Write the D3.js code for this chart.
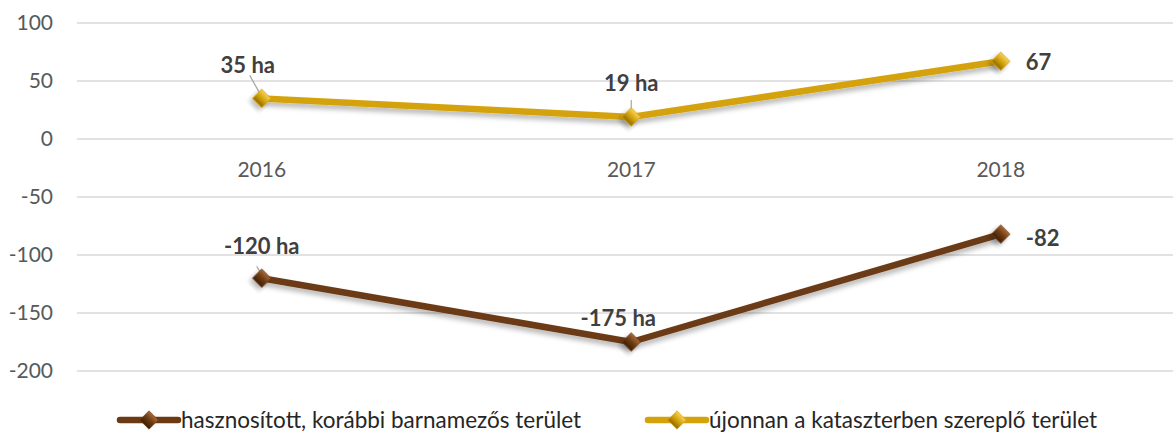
<!DOCTYPE html>
<html><head><meta charset="utf-8">
<script src="https://cdn.jsdelivr.net/npm/d3@7"></script>
<style>body{margin:0;background:#fff}svg{display:block}</style>
</head><body>
<svg id="c" width="1173" height="435"></svg>
<script>
const categories = ["2016", "2017", "2018"];
const seriesNames = ["hasznosított, korábbi barnamezős terület", "újonnan a kataszterben szereplő terület"];
const brownValues = [-120, -175, -82];
const goldValues = [35, 19, 67];
const brownLabels = ["-120 ha", "-175 ha", "-82"];
const goldLabels = ["35 ha", "19 ha", "67"];
const yTicks = [100, 50, 0, -50, -100, -150, -200];

const svg = d3.select("#c");
const font = "Lato, 'Open Sans', sans-serif";
const x = d3.scaleBand().domain(categories).range([77, 1185.5]);
const cx = c => x(c) + x.bandwidth() / 2;
const y = d3.scaleLinear().domain([-200, 100]).range([371, 23]);

const defs = svg.append("defs");
const f = defs.append("filter").attr("id", "sh").attr("x", "-20%").attr("y", "-30%").attr("width", "140%").attr("height", "180%");
f.append("feDropShadow").attr("dx", 0).attr("dy", 4).attr("stdDeviation", 2.5).attr("flood-color", "#000").attr("flood-opacity", 0.28);

function grad(id, light, mid, dark) {
  const g = defs.append("linearGradient").attr("id", id).attr("x1", 0).attr("y1", 0).attr("x2", 0).attr("y2", 1);
  g.append("stop").attr("offset", "0%").attr("stop-color", light);
  g.append("stop").attr("offset", "50%").attr("stop-color", mid);
  g.append("stop").attr("offset", "100%").attr("stop-color", dark);
}
grad("gg", "#f5d25a", "#d4a20a", "#8e6a00");
grad("gb", "#a8683a", "#6b3a12", "#3e1f06");

const diamond = d3.symbol(d3.symbolSquare, 170)();

// gridlines
svg.append("g").selectAll("line").data(yTicks).join("line")
  .attr("x1", 77).attr("x2", 1173)
  .attr("y1", d => y(d)).attr("y2", d => y(d))
  .attr("stroke", "#d9d9d9").attr("stroke-width", 1.3);

// y labels
svg.append("g").selectAll("text").data(yTicks).join("text")
  .attr("x", 53).attr("y", d => y(d)).attr("dy", "0.35em")
  .attr("text-anchor", "end").attr("font-family", font).attr("font-size", 21)
  .attr("fill", "#595959").text(d => d);

// x labels
svg.append("g").selectAll("text").data(categories).join("text")
  .attr("x", d => cx(d)).attr("y", y(0) + 31).attr("dy", "0.35em").attr("text-anchor", "middle")
  .attr("font-family", font).attr("font-size", 21).attr("fill", "#595959").text(d => d);

const line = d3.line().x((d, i) => cx(categories[i])).y(d => y(d));

function series(vals, color, gid) {
  const g = svg.append("g");
  g.append("path").datum(vals).attr("d", line).attr("fill", "none")
    .attr("stroke", color).attr("stroke-width", 6.5).attr("stroke-linejoin", "round")
    .attr("filter", "url(#sh)");
  g.selectAll("path.m").data(vals).join("path").attr("class", "m")
    .attr("transform", (d, i) => `translate(${cx(categories[i])},${y(d)}) rotate(45)`)
    .attr("d", diamond)
    .attr("fill", `url(#${gid})`).attr("stroke", color).attr("stroke-width", 0.6)
    .attr("filter", "url(#sh)");
}

// leader lines
const leaders = [
  [cx("2016") - 12, y(35) - 23, cx("2016") - 2, y(35) - 5],
  [cx("2017"), y(19) - 17, cx("2017"), y(19) - 6],
  [cx("2016") - 5, y(-120) - 12, cx("2016") - 1, y(-120) - 5]
];
svg.append("g").selectAll("line").data(leaders).join("line")
  .attr("x1", d => d[0]).attr("y1", d => d[1]).attr("x2", d => d[2]).attr("y2", d => d[3])
  .attr("stroke", "#a6a6a6").attr("stroke-width", 1.2);

series(goldValues, "#d4a20a", "gg");
series(brownValues, "#6b3a12", "gb");

// data labels
const lab = [
  [goldLabels[0], cx("2016") - 14, y(35) - 33, "middle"],
  [goldLabels[1], cx("2017"), y(19) - 34, "middle"],
  [goldLabels[2], cx("2018") + 25, y(67) + 1, "start"],
  [brownLabels[0], cx("2016"), y(-120) - 32, "middle"],
  [brownLabels[1], cx("2017") - 13, y(-175) - 24, "middle"],
  [brownLabels[2], cx("2018") + 25, y(-82) + 4, "start"]
];
svg.append("g").selectAll("text").data(lab).join("text")
  .attr("x", d => d[1]).attr("y", d => d[2]).attr("dy", "0.35em").attr("text-anchor", d => d[3])
  .attr("font-family", font).attr("font-size", 22).attr("font-weight", "bold").attr("fill", "#404040")
  .text(d => d[0]);

// legend
const leg = [
  { name: seriesNames[0], color: "#6b3a12", gid: "gb", x0: 120 },
  { name: seriesNames[1], color: "#d4a20a", gid: "gg", x0: 648 }
];
const lg = svg.append("g").selectAll("g").data(leg).join("g");
lg.append("line").attr("x1", d => d.x0).attr("x2", d => d.x0 + 58).attr("y1", 420).attr("y2", 420)
  .attr("stroke", d => d.color).attr("stroke-width", 6.5).attr("stroke-linecap", "round");
lg.append("path").attr("transform", d => `translate(${d.x0 + 29},420) rotate(45)`)
  .attr("d", diamond)
  .attr("fill", d => `url(#${d.gid})`).attr("stroke", d => d.color).attr("stroke-width", 0.6);
lg.append("text").attr("x", d => d.x0 + 61).attr("y", 420).attr("dy", "0.35em")
  .attr("font-family", font).attr("font-size", 22.5).attr("fill", "#262626").text(d => d.name);
</script>
</body></html>
